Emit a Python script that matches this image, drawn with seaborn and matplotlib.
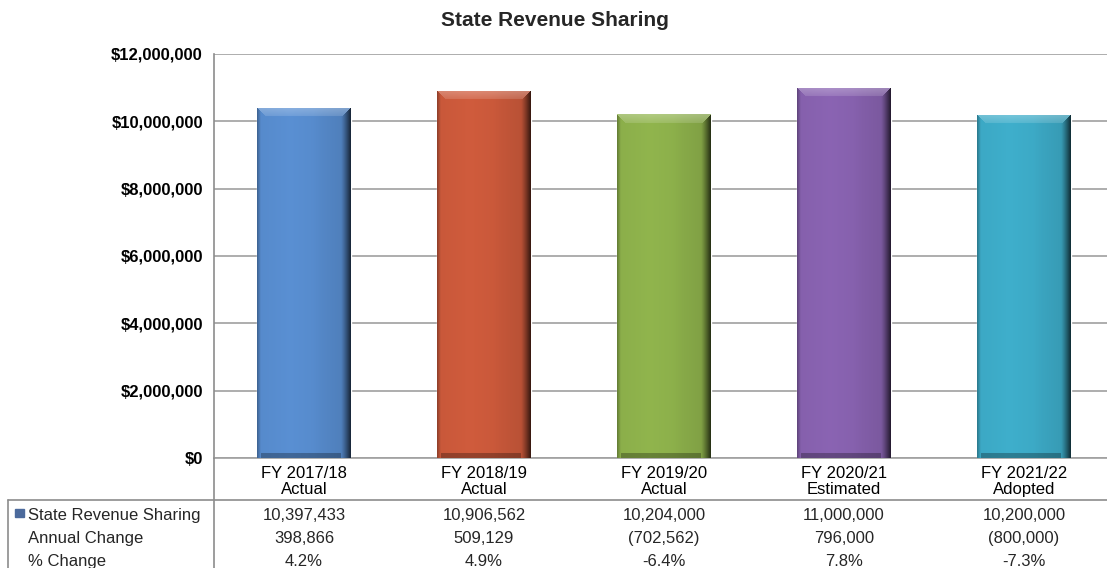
import numpy as np
import pandas as pd
import matplotlib
matplotlib.use("Agg")
import matplotlib.pyplot as plt
import matplotlib.colors as mcolors
import matplotlib.transforms as mtrans
from matplotlib.lines import Line2D
from matplotlib.patches import Rectangle
import seaborn as sns

# chart data
years = ["FY 2017/18", "FY 2018/19", "FY 2019/20", "FY 2020/21", "FY 2021/22"]
status = ["Actual", "Actual", "Actual", "Estimated", "Adopted"]
revenue = [10397433, 10906562, 10204000, 11000000, 10200000]
annual_change = [398866, 509129, -702562, 796000, -800000]
pct_change = [4.2, 4.9, -6.4, 7.8, -7.3]
bar_colors = ["#568acb", "#c8583a", "#8bae4a", "#8560ac", "#3ca8c4"]

sns.set_theme(style="white")
plt.rcParams["font.family"] = ["Liberation Sans", "DejaVu Sans"]

W, H = 1107, 568
fig = plt.figure(figsize=(W / 100, H / 100), dpi=100)
# plot area runs past the right edge like the original
ax = fig.add_axes([214 / W, 110 / H, 900 / W, 404 / H])

df = pd.DataFrame({"year": years, "revenue": revenue})
sns.barplot(data=df, x="year", y="revenue", hue="year", palette=bar_colors,
            width=0.52, saturation=1, legend=False, ax=ax, zorder=2)

ax.set_xlim(-0.5, 4.5)
ax.set_ylim(0, 12e6)
ax.set_autoscale_on(False)


def bevel(patch, ax):
    x0, w, h = patch.get_x(), patch.get_width(), patch.get_height()
    base = np.array(mcolors.to_rgb(patch.get_facecolor()))
    p0 = ax.transData.transform((x0, 0))
    p1 = ax.transData.transform((x0 + w, h))
    nx, ny = max(int(round(p1[0] - p0[0])), 2), max(int(round(p1[1] - p0[1])), 2)
    xs = (np.arange(nx) + 0.5)[None, :]
    ys = (np.arange(ny) + 0.5)[:, None]
    d_left = np.broadcast_to(xs, (ny, nx))
    d_right = np.broadcast_to(nx - xs, (ny, nx))
    d_bot = np.broadcast_to(ys, (ny, nx))
    d_top = np.broadcast_to(ny - ys, (ny, nx))
    b = 9.0
    shade = np.ones((ny, nx))
    light = np.zeros((ny, nx))
    # slight lift left of centre, soft darkening toward the right
    shade = shade * (1 + 0.04 * np.clip(1 - np.abs(xs / nx - 0.35) / 0.35, 0, 1))
    shade = shade * (1 - 0.10 * np.clip((xs / nx - 0.6) / 0.4, 0, 1))
    top = (d_top <= b) & (d_top <= d_left) & (d_top <= d_right)
    right = (d_right <= b + 1) & ~top
    left = (d_left <= 4) & ~top
    bot = (d_bot <= 5) & ~right & ~left
    light[top] = 0.30 * (1 - d_top[top] / (b * 1.8))
    rf = 1 - d_right / (b + 1)
    shade[right] *= 1 - 0.72 * rf[right] ** 1.2
    lf = 1 - d_left / 4
    shade[left] *= 1 - 0.3 * lf[left]
    shade[bot] *= 0.72
    img = base[None, None, :] * shade[..., None]
    img = img + (1 - img) * light[..., None]
    im = ax.imshow(np.clip(img, 0, 1), extent=(x0, x0 + w, 0, h), origin="lower",
                   aspect="auto", interpolation="bilinear", zorder=3)
    im.set_clip_path(patch)


for p in list(ax.patches):
    bevel(p, ax)

ax.set_xlim(-0.5, 4.5)
ax.set_ylim(0, 12e6)
ax.set_yticks(np.arange(0, 12e6 + 1, 2e6))
ax.set_yticklabels([f"${v:,.0f}" for v in np.arange(0, 12e6 + 1, 2e6)],
                   fontsize=12, fontweight="bold", color="black")
ax.set_xticks(range(len(years)))
ax.set_xticklabels([f"{y}\n{s}" for y, s in zip(years, status)],
                   fontsize=12, color="black", linespacing=1.05)
ax.tick_params(axis="y", length=0, pad=8)
ax.tick_params(axis="x", length=0, pad=6)
ax.set_xlabel("")
ax.set_ylabel("")
ax.yaxis.grid(True, color="#a0a0a0", lw=1.2)
ax.set_axisbelow(True)
for s in ["top", "right"]:
    ax.spines[s].set_visible(False)
ax.spines["left"].set_color("#8c8c8c")
ax.spines["bottom"].set_color("#a0a0a0")
ax.spines["left"].set_linewidth(1.2)
ax.spines["bottom"].set_linewidth(1.2)

fig.text(555 / W, 1 - 20 / H, "State Revenue Sharing", ha="center", va="center",
         fontsize=15, fontweight="bold")

# data table under the chart
blend = mtrans.blended_transform_factory(ax.transData, fig.transFigure)
row_y = [1 - 514 / H, 1 - 537 / H, 1 - 560 / H]
row_labels = ["State Revenue Sharing", "Annual Change", "% Change"]
rows = [
    [f"{v:,}" for v in revenue],
    [f"{v:,}" if v >= 0 else f"({-v:,})" for v in annual_change],
    [f"{v:.1f}%" for v in pct_change],
]
for yy, lab, vals in zip(row_y, row_labels, rows):
    fig.text(28 / W, yy, lab, ha="left", va="center_baseline", fontsize=12)
    for i, v in enumerate(vals):
        ax.text(i, yy, v, transform=blend, ha="center", va="center_baseline",
                fontsize=12, clip_on=False)

fig.add_artist(Rectangle((15 / W, 1 - 517 / H), 9 / W, 8 / H, color="#4c6a9c",
                         transform=fig.transFigure))
line_kw = dict(color="#8c8c8c", lw=1.2, transform=fig.transFigure)
fig.add_artist(Line2D([8 / W, 1], [1 - 500 / H] * 2, **line_kw))
fig.add_artist(Line2D([214 / W] * 2, [0, 110 / H], **line_kw))
fig.add_artist(Line2D([8 / W] * 2, [0, 1 - 500 / H], **line_kw))

fig.savefig("out.png", dpi=100)
